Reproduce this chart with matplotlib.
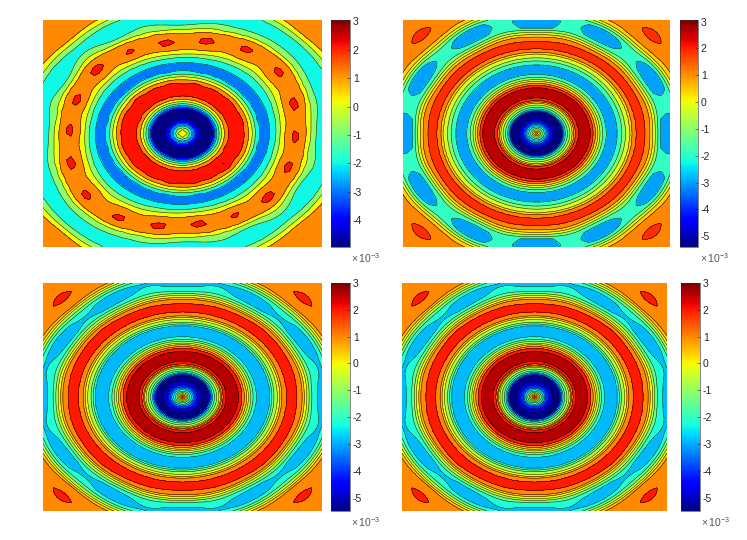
import numpy as np
import matplotlib
matplotlib.use("Agg")
import matplotlib.pyplot as plt
from matplotlib.colors import Normalize
from matplotlib.cm import ScalarMappable

plt.rcParams['font.family'] = ['Liberation Sans', 'DejaVu Sans']
plt.rcParams['mathtext.fontset'] = 'custom'
plt.rcParams['mathtext.rm'] = 'Liberation Sans'
plt.rcParams['mathtext.it'] = 'Liberation Sans'

# Radial profiles: field value (x 1e-3) and the normalised
# radius where it occurs along the axes and along the diagonals.
p1_values = [0.6,0,-1,-2,-3,-4,-4.9,-4.95,-4.9,-4,-3,-2,-1,0,1,2,2.78,2.85,2.78,2,1,0,-1,-2,-2.6,-2,-1,0,1,1.85,1.95,1.85,1,0,-1,-1.8,-1,0,1,1.7,1.3]
p1_axis = [0,.036,.05,.067,.09,.115,.16,.18,.2,.215,.23,.247,.262,.28,.30,.325,.37,.385,.40,.445,.475,.5,.523,.544,.586,.628,.67,.70,.736,.78,.81,.84,.892,.916,.964,1.02,1.125,1.17,1.21,1.27,1.45]
p1_diag = p1_axis[:26] + [.69,.725,.765,.83,.86,.89,.935,.96,1.01,1.06,1.12,1.16,1.20,1.25,1.42]

p2_values = [1.6,1,0,-1,-2,-3,-4,-5,-5.35,-5,-4,-3,-1.9,-1.1,-.3,.4,1.1,1.9,2.6,2.95,2.6,1.9,1.1,.4,-.3,-1.1,-1.9,-2.6,-1.9,-1.1,-.3,.4,1.1,1.9,2.3,1.9,1.1,.4,-.3,-1.1,-1.9,-2.2,-1.9,-1.1,-.3,.4,1.1,1.55,1.2]
p2_axis = [0,.012,.028,.042,.06,.08,.10,.14,.16,.185,.195,.20,.215,.232,.25,.268,.28,.29,.31,.36,.405,.425,.44,.46,.475,.495,.52,.565,.605,.64,.665,.70,.715,.745,.78,.815,.855,.875,.895,.915,.935,1.0,1.06,1.08,1.10,1.12,1.14,1.22,1.45]
p2_diag = p2_axis[:36] + [.845,.865,.885,.905,.945,.985,1.02,1.05,1.07,1.09,1.12,1.22,1.42]

p3_values = [2.1,1,0,-1,-2,-3,-4,-5,-5.45,-5,-4,-2.9,-2.2,-1.5,-.8,-.1,.5,1,2,2.6,2.95,2.6,2,1,.5,-.1,-.8,-1.5,-2.2,-2.7,-2.2,-1.5,-.8,-.1,.5,1,2,2.4,2,1,.5,-.1,-.8,-1.5,-2.2,-2.5,-2.2,-1.5,-.8,-.1,.5,1,1.6,1.2]
p3_axis = [0,.012,.028,.042,.06,.08,.10,.14,.16,.185,.195,.205,.214,.228,.245,.262,.272,.28,.29,.31,.36,.402,.428,.44,.46,.472,.49,.505,.527,.578,.628,.64,.655,.68,.698,.712,.745,.785,.822,.86,.875,.895,.91,.93,.98,1.03,1.055,1.075,1.09,1.105,1.125,1.145,1.22,1.45]
p3_diag = p3_axis[:38] + [.825,.85,.865,.88,.90,.92,.94,.98,1.02,1.05,1.07,1.09,1.105,1.125,1.22,1.42]

p4_values = p3_values
p4_axis = p3_axis
p4_diag = p3_diag

# Ripple amplitude against radius, and the swell that closes the corner ovals
ripple_r = [0,.3,.4,.5,.7,.8,.9,1.0,1.15,1.3]
p1_ripple12 = [0,0,.14,0,0,0,.15,.45,0,0]
p1_ripple18 = [0,0,.15,0,0,.22,.1,0,0,0]
p2_ripple12 = [0,0,0,0,0,0,.2,.5,0,0]
p2_ripple18 = [0]*10
p3_ripple12 = [0,0,0,0,0,0,.1,.2,0,0]
p3_ripple18 = [0]*10
p4_ripple12 = p3_ripple12
p4_ripple18 = p3_ripple18
corner_r = [1.1,1.22,1.34]
corner_swell = [0,.7,0]
corner_gain = [.5,1,1,1]
skews = [.03, 0, 0, 0]
ripple_bias = [1, 0, 0, 0]
color_shift = [.15, 0, 0, 0]

p1_levels = [-5.2,-5,-4,-3,-2,-1,0,1,2,3,3.5]
p2_levels = [-5.5,-4.6,-3.8,-3,-1.9,-1.1,-.3,.4,1.1,1.9,2.6,3.2]
p3_levels = [-5.6,-4.9,-4.1,-2.9,-2.2,-1.5,-.8,-.1,.5,1.0,2.0,2.6,3.2]
p4_levels = p3_levels

cbar_limits = [(-4.94,3.05),(-5.4,3.06),(-5.5,3.0),(-5.5,3.0)]
cbar_ticks = [[-4,-3,-2,-1,0,1,2,3],[-5,-4,-3,-2,-1,0,1,2,3],[-5,-4,-3,-2,-1,0,1,2,3],[-5,-4,-3,-2,-1,0,1,2,3]]
grid_sizes = [61,141,181,181]

# layout in pixels: axes box, colourbar box
W, H = 747, 540
ax_boxes = [(43,20,322,247),(403,20,670,247),(43,283,322,511),(402,283,667,511)]
cb_boxes = [(331,20,350,247),(680,20,698,247),(331,283,350,511),(681,283,700,511)]
offset_xy = [(351,258),(700,258),(351,522),(701,522)]


def field(i, n, vals, ra, rd, rip12, rip18):
    x = np.linspace(-1, 1, n)
    X, Y = np.meshgrid(x, x)
    r0 = np.hypot(X, Y)
    th = np.arctan2(Y, X)
    t = (1 - np.cos(4*th)) / 2
    r = r0 / (1 + np.interp(r0, [0,.5,.8,1.5], [0,0,skews[i],skews[i]]) * np.sin(2*th))
    v, ra, rd = map(np.asarray, (vals, ra, rd))
    Z = np.full(X.shape, v[-1], float)
    for k in range(len(v)-1):
        lo = ra[k] + t*(rd[k]-ra[k])
        hi = ra[k+1] + t*(rd[k+1]-ra[k+1])
        m = (r >= lo) & (r < hi)
        Z[m] = (v[k] + (v[k+1]-v[k])*(r-lo)/(hi-lo))[m]
    weight = 1 - ripple_bias[i]*(1 + np.sin(2*th))/2
    Z -= np.interp(r, ripple_r, rip12)*np.cos(12*th)*weight
    Z += np.interp(r, ripple_r, rip18)*np.cos(18*th+.6)
    Z += corner_gain[i]*np.interp(r, corner_r, corner_swell)*t**24
    return X, Y, Z


panels = [
    (p1_values,p1_axis,p1_diag,p1_ripple12,p1_ripple18,p1_levels),
    (p2_values,p2_axis,p2_diag,p2_ripple12,p2_ripple18,p2_levels),
    (p3_values,p3_axis,p3_diag,p3_ripple12,p3_ripple18,p3_levels),
    (p4_values,p4_axis,p4_diag,p4_ripple12,p4_ripple18,p4_levels),
]


def rect(b):
    return [b[0]/W, 1-b[3]/H, (b[2]-b[0])/W, (b[3]-b[1])/H]


fig = plt.figure(figsize=(W/100, H/100), dpi=100)
cmap = plt.get_cmap('jet')
dark = '#262626'
for i, (vals, ra, rd, r12, r18, levels) in enumerate(panels):
    ax = fig.add_axes(rect(ax_boxes[i]))
    X, Y, Z = field(i, grid_sizes[i], vals, ra, rd, r12, r18)
    lim = cbar_limits[i]
    norm = Normalize(*lim)
    colors = [cmap(norm(l + (color_shift[i] if l > -1.5 else 0))) for l in levels[:-1]]
    ax.contourf(X, Y, Z, levels=levels, colors=colors, extend='neither')
    ax.contour(X, Y, Z, levels=levels[1:-1], colors='k', linewidths=.35, linestyles='solid')
    ax.set_xlim(-1, 1); ax.set_ylim(-1, 1)
    ax.axis('off')
    cax = fig.add_axes(rect(cb_boxes[i]))
    cb = fig.colorbar(ScalarMappable(norm=norm, cmap=cmap), cax=cax)
    cb.set_ticks(cbar_ticks[i])
    cb.set_ticklabels([str(t) for t in cbar_ticks[i]])
    cax.tick_params(direction='in', length=2, width=.4, labelsize=7.5, colors=dark, pad=2)
    cb.outline.set_linewidth(.4)
    cb.outline.set_edgecolor(dark)
    ox, oy = offset_xy[i]
    fig.text(ox/W, 1-oy/H, r'$\times\,10^{-3}$', fontsize=7.5, color='#555555', va='center', ha='left')

fig.savefig('out.png', dpi=100)
